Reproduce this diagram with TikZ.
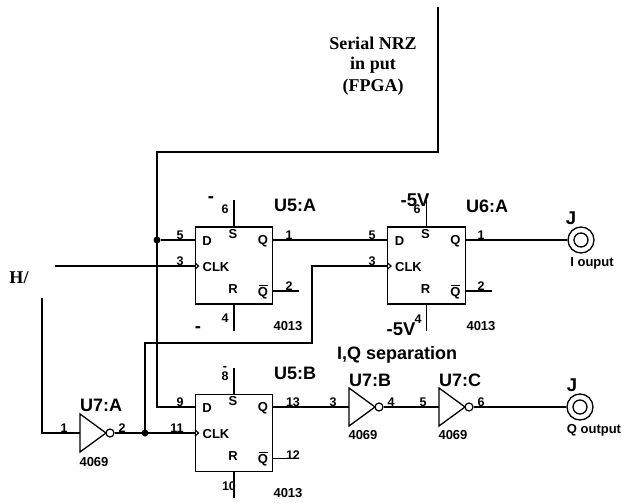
\documentclass[tikz,border=0pt]{standalone}
\usepackage{fontspec}
\setmainfont{Liberation Sans}
\newfontfamily\serifbf{Liberation Serif}
\usepackage{xcolor}
\usetikzlibrary{calc}
\tikzset{
  wire/.style={draw=black, line width=1.3pt, line cap=butt, line join=miter},
  chip/.style={draw=black, line width=1.3pt, minimum width=77.5pt, minimum height=77pt, inner sep=0pt, fill=white},
  dot/.style={circle, fill=black, inner sep=0pt, minimum size=7pt},
  bub/.style={circle, draw=black, line width=1.2pt, fill=white, inner sep=0pt, minimum size=8pt},
  jack/.style={circle, draw=black, line width=1.3pt, inner sep=0pt, minimum size=26pt},
  jackin/.style={circle, draw=black, line width=1.3pt, inner sep=0pt, minimum size=14pt},
  pin/.style={font=\bfseries\fontsize{12.5}{12.5}\selectfont, inner sep=0pt},
  inlab/.style={font=\bfseries\fontsize{13}{13}\selectfont, inner sep=0pt},
  ref/.style={font=\bfseries\fontsize{18}{18}\selectfont, inner sep=0pt, anchor=west},
  sup/.style={font=\bfseries\fontsize{18.5}{18.5}\selectfont, inner sep=0pt},
  note/.style={font=\serifbf\bfseries\fontsize{18}{18}\selectfont, inner sep=0pt},
}
\begin{document}
\begin{tikzpicture}[x=1pt,y=-1pt]
  \useasboundingbox (0,0) rectangle (622,503);
  % flip-flops
  \node[chip] (u5a) at (234,265.5) {};
  \node[chip] (u6a) at (426.5,265.5) {};
  \node[chip] (u5b) at (234,433) {};
  % points on the wires
  \coordinate (top) at (438,7);
  \coordinate (hin) at (55,266);
  \coordinate (hdown) at (42,298);
  \node[dot] (da) at (157,240) {};
  \node[dot] (clk) at (145,433) {};
  \node[jack] (ji) at (581,240) {};
  \node[jackin] (jia) at (581,240) {};
  \node[jack] (jq) at (580,407) {};
  \node[jackin] (jqa) at (580,407) {};
  % inverters
  \foreach \nm/\xx/\yy in {A/80/433,B/349/407,C/439/407}{
    \coordinate (in\nm) at (\xx,\yy);
    \draw[wire] (\xx,\yy-19)--(\xx,\yy+19)--(\xx+26,\yy)--cycle;
    \node[bub] (bub\nm) at (\xx+30,\yy) {};
  }
  % stubs
  \foreach \ic/\xx/\yy in {u5a/234/265.5,u6a/426.5/265.5,u5b/234/433}{
    \draw[wire] (\ic.north)--++(0,-26);
    \draw[wire] (\ic.south)--++(0,26);
    \draw[wire] (\xx+39,\yy+25.5)--++(26,0);
  }
  % nets
  \draw[wire] (top)--(438,152)--(157,152)--(da.center);
  \draw[wire] (da.center)--(157,407)--(195,407);
  \draw[wire] (da)--(195.2,240);
  \draw[wire] (272.8,240)--(387.7,240);
  \draw[wire] (465.3,240)--(ji);
  \draw[wire] (hin)--(195.2,266);
  \draw[wire] (387.7,266)--(312,266)--(312,343)--(145,343)--(clk.center);
  \draw[wire] (hdown)--(42,433)--(inA);
  \draw[wire] (bubA)--(195.2,433);
  \draw[wire] (272.8,407)--(inB);
  \draw[wire] (bubB)--(inC);
  \draw[wire] (bubC)--(jq);
  % clock marks
  \foreach \yy in {266,433}{
    \draw[line width=1.2pt] (195.2,\yy-3)--(198.5,\yy)--(195.2,\yy+3);
  }
  \draw[line width=1.2pt] (387.7,263)--(391,266)--(387.7,269);
  % labels in the boxes
  \foreach \nm/\xx/\yy in {a/0/0,b/192.5/0,c/0/167.5}{
    \node[inlab] (d\nm) at (207+\xx,241+\yy) {D};
    \node[inlab] (s\nm) at (233+\xx,234+\yy) {S};
    \node[inlab] (q\nm) at (263+\xx,241+\yy) {Q};
    \node[inlab] (c\nm) at (216+\xx,267+\yy) {CLK};
    \node[inlab] (r\nm) at (233+\xx,289+\yy) {R};
    \node[inlab] (n\nm) at (263+\xx,293+\yy) {Q};
    \draw[line width=0.8pt] (258.5+\xx,285+\yy)--(267.5+\xx,285+\yy);
  }
  % pin numbers
  \node[pin] (p5a) at (180,235) {5};
  \node[pin] (p3a) at (180,261) {3};
  \node[pin] (p1a) at (289,235) {1};
  \node[pin] (p2a) at (289,286) {2};
  \node[pin] (p6a) at (225,209) {6};
  \node[pin] (p4a) at (225,318) {4};
  \node[pin] (p5b) at (372,235) {5};
  \node[pin] (p3b) at (372,261) {3};
  \node[pin] (p1b) at (481,235) {1};
  \node[pin] (p2b) at (481,286) {2};
  \node[pin] (p6b) at (417,209) {6};
  \node[pin] (p4b) at (418,319) {4};
  \node[pin] (p9c) at (180,402) {9};
  \node[pin] (p11c) at (177,428) {11};
  \node[pin] (p13c) at (293,402) {13};
  \node[pin] (p12c) at (293,455) {12};
  \node[pin] (p8c) at (225,376) {8};
  \node[pin] (m8c) at (225,369) {-};
  \node[pin] (p10c) at (229,486) {10};
  \node[pin] (p1i) at (64,428) {1};
  \node[pin] (p2i) at (122,428) {2};
  \node[pin] (p3i) at (333,402) {3};
  \node[pin] (p4i) at (391,402) {4};
  \node[pin] (p5i) at (423,402) {5};
  \node[pin] (p6i) at (481,402) {6};
  % part names
  \node[ref] (nu5a) at (274,205) {U5:A};
  \node[ref] (nu6a) at (466,206) {U6:A};
  \node[ref] (nu5b) at (274,373) {U5:B};
  \node[ref] (nu7a) at (80,405) {U7:A};
  \node[ref] (nu7b) at (349,380) {U7:B};
  \node[ref] (nu7c) at (439,380) {U7:C};
  \node[ref] (sep) at (337,355) {I,Q separation};
  \node[inlab] (t1) at (288,326) {4013};
  \node[inlab] (t2) at (481,326) {4013};
  \node[inlab] (t3) at (288,493) {4013};
  \node[inlab] (t4) at (94,462) {4069};
  \node[inlab] (t5) at (363,435) {4069};
  \node[inlab] (t6) at (453,435) {4069};
  % supply marks
  \node[sup] (va) at (211,200) {-};
  \node[sup] (vb) at (198,330) {-};
  \node[sup] (vc) at (415,200) {-5V};
  \node[sup] (vd) at (401,329) {-5V};
  % outputs
  \node[sup] (ja) at (571,218) {J};
  \node[sup] (jb) at (572,385) {J};
  \node[inlab] (oi) at (592,263) {I ouput};
  \node[inlab] (oq) at (594,430) {Q output};
  % side notes
  \node[note] (hn) at (19,278) {H/};
  \node[note] (ser1) at (373,43) {Serial NRZ};
  \node[note] (ser2) at (373,65) {in put};
  \node[note] (ser3) at (373,87) {(FPGA)};
\end{tikzpicture}
\end{document}
